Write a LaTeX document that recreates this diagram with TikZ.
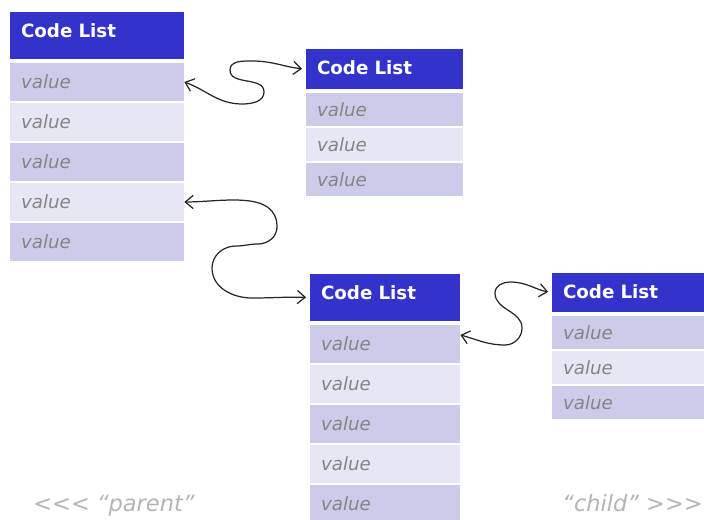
\documentclass[tikz,border=0pt]{standalone}
\usepackage{fontspec}
\setmainfont{DejaVu Sans}[Ligatures=TeXOff]
\usetikzlibrary{arrows.meta}
\definecolor{codeblue}{HTML}{3333CC}
\definecolor{codedark}{HTML}{CCCCEA}
\definecolor{codelight}{HTML}{E6E6F5}
\definecolor{valgray}{HTML}{858585}
\definecolor{notegray}{HTML}{B4B4B4}

\begin{document}
\begin{tikzpicture}[x=0.02cm, y=0.02cm,
    every node/.style={font=\fontsize{10.4}{12}\selectfont, inner xsep=0.22cm, inner ysep=0pt},
    head/.style n args={3}{fill=codeblue, text=white, font=\fontsize{10.4}{12}\selectfont\bfseries, text width=#1, minimum height=#2, text depth=#3, align=left},
    valdark/.style n args={2}{fill=codedark, text=valgray, font=\fontsize{10.4}{12}\selectfont\itshape, text width=#1, minimum height=#2, align=left},
    vallight/.style n args={2}{fill=codelight, text=valgray, font=\fontsize{10.4}{12}\selectfont\itshape, text width=#1, minimum height=#2, align=left},
    note/.style={text=notegray, font=\fontsize{12.8}{15}\selectfont\itshape, inner sep=0pt, anchor=west},
    link/.style={<->, >={Straight Barb[length=4.5pt,width=7.5pt]}, line width=0.7pt, draw=black!85, shorten >=2pt}]
    \useasboundingbox (0,0) rectangle (704,520);
    % parent list
    \node[head={3.04cm}{0.94cm}{5.5pt}] (h1) at (97,484.5) {Code List};
    \node[valdark={3.04cm}{0.76cm}] (r11) at (97,438) {value};
    \node[vallight={3.04cm}{0.76cm}] (r12) at (97,398) {value};
    \node[valdark={3.04cm}{0.76cm}] (r13) at (97,358) {value};
    \node[vallight={3.04cm}{0.76cm}] (r14) at (97,318) {value};
    \node[valdark={3.04cm}{0.76cm}] (r15) at (97,278) {value};
    % first child
    \node[head={2.70cm}{0.8cm}{1.5pt}] (h2) at (384.5,451) {Code List};
    \node[valdark={2.70cm}{0.66cm}] (r21) at (384.5,410) {value};
    \node[vallight={2.70cm}{0.66cm}] (r22) at (384.5,375) {value};
    \node[valdark={2.70cm}{0.66cm}] (r23) at (384.5,340) {value};
    % second child
    \node[head={2.56cm}{0.94cm}{5.5pt}] (h3) at (385,222.5) {Code List};
    \node[valdark={2.56cm}{0.76cm}] (r31) at (385,176) {value};
    \node[vallight={2.56cm}{0.76cm}] (r32) at (385,136) {value};
    \node[valdark={2.56cm}{0.76cm}] (r33) at (385,96) {value};
    \node[vallight={2.56cm}{0.76cm}] (r34) at (385,56) {value};
    \node[valdark={2.56cm}{0.76cm}] (r35) at (385,16) {value};
    % grandchild
    \node[head={2.76cm}{0.78cm}{1.5pt}] (h4) at (632,227.5) {Code List};
    \node[valdark={2.76cm}{0.66cm}] (r41) at (632,187) {value};
    \node[vallight={2.76cm}{0.66cm}] (r42) at (632,152) {value};
    \node[valdark={2.76cm}{0.66cm}] (r43) at (632,117) {value};
    % labels
    \node[note] (parent) at (33,14) {<<< “parent”};
    \node[note] (child) at (562,17) {“child” >>>};
    % links
    \draw[link] (r11.east) to[out=-20,in=180] (242,416) to[out=0,in=-90] (264,428)
        to[out=90,in=-90] (230,450) to[out=90,in=180] (252,459) to[out=0,in=175] (h2.west);
    \draw[link] (r14.east) to[out=0,in=90] (277,293) to[out=-90,in=0] (258,276)
        to[out=180,in=0] (236,274) to[out=180,in=90] (212,252) to[out=-90,in=180] (252,222)
        to[out=0,in=178] (h3.west);
    \draw[link] ([yshift=0.18cm]r31.east) to[out=-15,in=180] (505,175) to[out=0,in=-90] (522,192)
        to[out=90,in=-90] (495,227) to[out=90,in=180] (510,238) to[out=0,in=170] (h4.west);
\end{tikzpicture}
\end{document}
